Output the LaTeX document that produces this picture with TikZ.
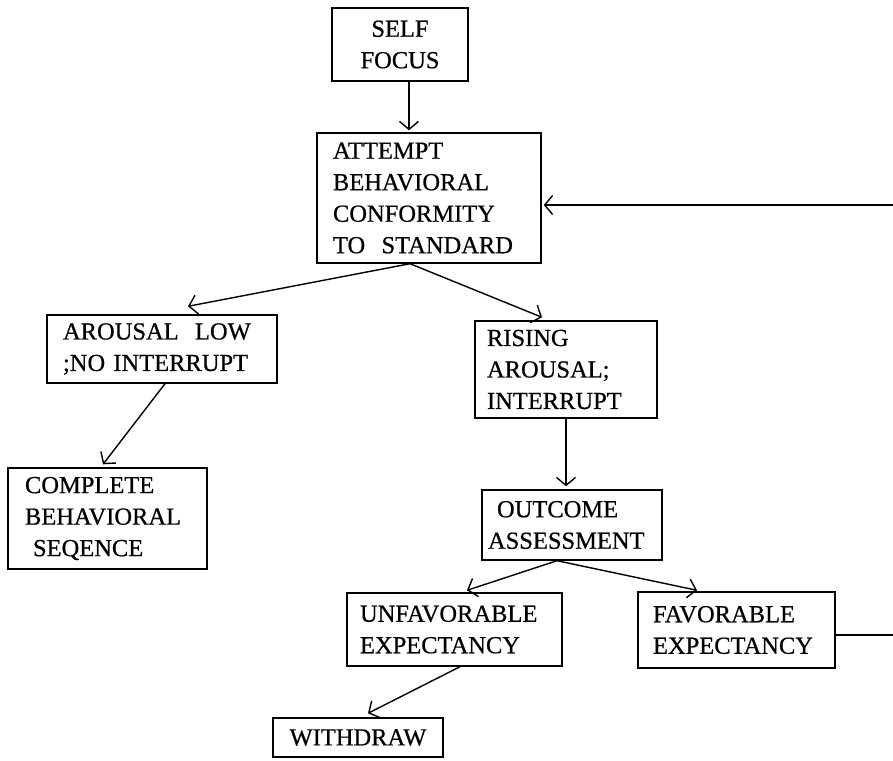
\documentclass[tikz,border=0pt]{standalone}
\usepackage{fontspec}
\setmainfont[FakeBold=0.6]{Liberation Serif}
\usetikzlibrary{arrows.meta,calc}
\begin{document}
\begin{tikzpicture}[x=1pt,y=-1pt,
  bx/.style={draw, line width=1.4pt, align=left, inner ysep=0pt,
    font=\fontsize{24.5}{31.5}\selectfont},
  arr/.style={line width=1.4pt, -{Straight Barb[length=8pt,width=19pt,line width=1.4pt]}}]
\useasboundingbox[fill=white] (0,0) rectangle (893,760);
% nodes
\node[bx, align=center, text width=120pt, inner xsep=8pt, minimum height=73pt] (self) at (400,44.5) {SELF\\FOCUS};
\node[bx, text width=192pt, inner xsep=16pt, minimum height=130pt] (attempt) at (429,198) {ATTEMPT\\BEHAVIORAL\\CONFORMITY\\TO\ \ STANDARD};
\node[bx, text width=198pt, inner xsep=16pt, minimum height=68pt] (low) at (162,349) {AROUSAL\ \ LOW\\;NO INTERRUPT};
\node[bx, text width=165pt, inner xsep=17pt, minimum height=101pt] (complete) at (107.5,518.5) {COMPLETE\\BEHAVIORAL\\\hspace*{8pt}SEQENCE};
\node[bx, text width=158pt, inner xsep=12pt, minimum height=97pt] (rising) at (566,369.5) {RISING\\AROUSAL;\\INTERRUPT};
\node[bx, text width=168pt, inner xsep=6pt, minimum height=70pt] (outcome) at (572,525) {\hspace*{9pt}OUTCOME\\ASSESSMENT};
\node[bx, text width=189pt, inner xsep=13pt, minimum height=73pt] (unfav) at (454.5,629.5) {UNFAVORABLE\\EXPECTANCY};
\node[bx, text width=167pt, inner xsep=15pt, minimum height=76pt] (fav) at (736.5,630) {FAVORABLE\\EXPECTANCY};
\node[bx, align=center, text width=154pt, inner xsep=8pt, minimum height=39pt] (withdraw) at (358,737.5) {WITHDRAW};
% feedback route coordinates (just outside the page)
\coordinate (edgeB) at (900,635);
\coordinate (edgeT) at (900,205);
% connectors
\draw[arr] ($(self.south)+(9,0)$) -- ($(attempt.north)+(-20,-2)$);
\draw[arr] ($(attempt.south)+(-19,0)$) -- ($(low.north)+(26,-8)$);
\draw[arr] ($(attempt.south)+(-19,0)$) -- ($(rising.north)+(-24,-3)$);
\draw[arr] ($(low.south)+(3,0)$) -- ($(complete.north)+(-4.5,-3)$);
\draw[arr] (rising.south) -- ($(outcome.north)+(-6,-3)$);
\draw[arr] ($(outcome.south)+(-15,0)$) -- ($(unfav.north)+(12.5,-2)$);
\draw[arr] ($(outcome.south)+(-15,0)$) -- ($(fav.north)+(-39.5,-1)$);
\draw[arr] ($(unfav.south)+(5.5,0)$) -- ($(withdraw.north)+(10,-4)$);
\draw[arr] ($(fav.east)+(0,5)$) -- (edgeB) -- (edgeT) -- ($(attempt.east)+(2,7)$);
\end{tikzpicture}
\end{document}
